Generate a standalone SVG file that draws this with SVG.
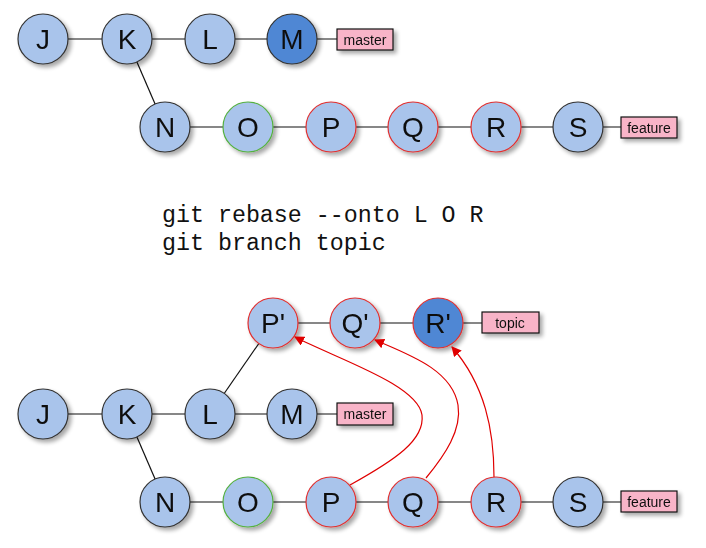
<svg xmlns="http://www.w3.org/2000/svg" width="706" height="548" viewBox="0 0 706 548">
<defs>
<filter id="sh" x="-30%" y="-30%" width="170%" height="170%">
<feGaussianBlur in="SourceAlpha" stdDeviation="2"/>
<feOffset dx="3" dy="3" result="b"/>
<feComponentTransfer><feFuncA type="linear" slope="0.35"/></feComponentTransfer>
<feMerge><feMergeNode/><feMergeNode in="SourceGraphic"/></feMerge>
</filter>
<marker id="ah" viewBox="0 0 10 10" refX="9" refY="5" markerWidth="10" markerHeight="10" markerUnits="userSpaceOnUse" orient="auto">
<path d="M0,0 L10,5 L0,10 z" fill="#e00000"/>
</marker>
<style>
.n circle{fill:#a9c4eb;stroke:#333;stroke-width:1.2}
.n.head circle{fill:#5087d4}
.n.g circle{stroke:#55b040}
.n.r circle{stroke:#e03030}
.n text{font-family:"Liberation Sans",Arial,sans-serif;font-size:28px;text-anchor:middle;fill:#111}
.lb rect{fill:#f8b4c8;stroke:#111;stroke-width:1.2}
.lb text{font-family:"Liberation Sans",Arial,sans-serif;font-size:14px;text-anchor:middle;fill:#111}
.e line{stroke:#111;stroke-width:1.2}
.a path{fill:none;stroke:#e00000;stroke-width:1.2;marker-end:url(#ah)}
.cmd{font-family:"Liberation Mono","DejaVu Sans Mono",monospace;font-size:23.3px;fill:#111}
</style>
</defs>
<rect width="706" height="548" fill="#fff"/>
<g id="connectors">
<g class="e">
<line x1="43" y1="39" x2="292" y2="39"/>
<line x1="292" y1="39" x2="337" y2="39"/>
<line x1="127" y1="39" x2="165" y2="127"/>
<line x1="165" y1="127" x2="578" y2="127"/>
<line x1="578" y1="127" x2="621" y2="127"/>
<line x1="43" y1="414" x2="292" y2="414"/>
<line x1="292" y1="414" x2="337" y2="414"/>
<line x1="127" y1="414" x2="165" y2="502"/>
<line x1="165" y1="502" x2="578" y2="502"/>
<line x1="578" y1="502" x2="621" y2="502"/>
<line x1="210" y1="414" x2="273" y2="323"/>
<line x1="273" y1="323" x2="438" y2="323"/>
<line x1="438" y1="323" x2="482" y2="323"/>
</g>
</g>
<g id="nodes">
<g id="J1" class="n" filter="url(#sh)"><circle cx="43" cy="39" r="25"/><text x="43" y="49">J</text></g>
<g id="K1" class="n" filter="url(#sh)"><circle cx="127" cy="39" r="25"/><text x="127" y="49">K</text></g>
<g id="L1" class="n" filter="url(#sh)"><circle cx="210" cy="39" r="25"/><text x="210" y="49">L</text></g>
<g id="M1" class="n head" filter="url(#sh)"><circle cx="292" cy="39" r="25"/><text x="292" y="49">M</text></g>
<g id="N1" class="n" filter="url(#sh)"><circle cx="165" cy="127" r="25"/><text x="165" y="137">N</text></g>
<g id="O1" class="n g" filter="url(#sh)"><circle cx="248" cy="127" r="25"/><text x="248" y="137">O</text></g>
<g id="P1" class="n r" filter="url(#sh)"><circle cx="331" cy="127" r="25"/><text x="331" y="137">P</text></g>
<g id="Q1" class="n r" filter="url(#sh)"><circle cx="413" cy="127" r="25"/><text x="413" y="137">Q</text></g>
<g id="R1" class="n r" filter="url(#sh)"><circle cx="496" cy="127" r="25"/><text x="496" y="137">R</text></g>
<g id="S1" class="n" filter="url(#sh)"><circle cx="578" cy="127" r="25"/><text x="578" y="137">S</text></g>
<g id="master1" class="lb" filter="url(#sh)"><rect x="337" y="29" width="56" height="21"/><text x="365" y="44.5">master</text></g>
<g id="feature1" class="lb" filter="url(#sh)"><rect x="621" y="117" width="56" height="21"/><text x="649" y="132.5">feature</text></g>

<g id="Pp" class="n r" filter="url(#sh)"><circle cx="273" cy="323" r="25"/><text x="273" y="333">P'</text></g>
<g id="Qp" class="n r" filter="url(#sh)"><circle cx="355" cy="323" r="25"/><text x="355" y="333">Q'</text></g>
<g id="Rp" class="n r head" filter="url(#sh)"><circle cx="438" cy="323" r="25"/><text x="438" y="333">R'</text></g>
<g id="topic" class="lb" filter="url(#sh)"><rect x="482" y="312" width="57" height="21"/><text x="510" y="327.5">topic</text></g>

<g id="J2" class="n" filter="url(#sh)"><circle cx="43" cy="414" r="25"/><text x="43" y="424">J</text></g>
<g id="K2" class="n" filter="url(#sh)"><circle cx="127" cy="414" r="25"/><text x="127" y="424">K</text></g>
<g id="L2" class="n" filter="url(#sh)"><circle cx="210" cy="414" r="25"/><text x="210" y="424">L</text></g>
<g id="M2" class="n" filter="url(#sh)"><circle cx="292" cy="414" r="25"/><text x="292" y="424">M</text></g>
<g id="master2" class="lb" filter="url(#sh)"><rect x="337" y="403" width="56" height="22"/><text x="365" y="419">master</text></g>
<g id="N2" class="n" filter="url(#sh)"><circle cx="165" cy="502" r="25"/><text x="165" y="512">N</text></g>
<g id="O2" class="n g" filter="url(#sh)"><circle cx="248" cy="502" r="25"/><text x="248" y="512">O</text></g>
<g id="P2" class="n r" filter="url(#sh)"><circle cx="331" cy="502" r="25"/><text x="331" y="512">P</text></g>
<g id="Q2" class="n r" filter="url(#sh)"><circle cx="413" cy="502" r="25"/><text x="413" y="512">Q</text></g>
<g id="R2" class="n r" filter="url(#sh)"><circle cx="496" cy="502" r="25"/><text x="496" y="512">R</text></g>
<g id="S2" class="n" filter="url(#sh)"><circle cx="578" cy="502" r="25"/><text x="578" y="512">S</text></g>
<g id="feature2" class="lb" filter="url(#sh)"><rect x="621" y="491" width="56" height="21"/><text x="649" y="506.5">feature</text></g>
</g>
<g id="arrows" class="a">
<path d="M350,485 C395,460 425,440 422,415 C418,385 340,360 295,337"/>
<path d="M426,478 C445,455 462,430 458,405 C452,370 410,355 375,340"/>
<path d="M494,477 C494,430 485,385 452,347"/>
</g>
<text class="cmd" x="162" y="222">git rebase --onto L O R</text>
<text class="cmd" x="162" y="250">git branch topic</text>
</svg>
